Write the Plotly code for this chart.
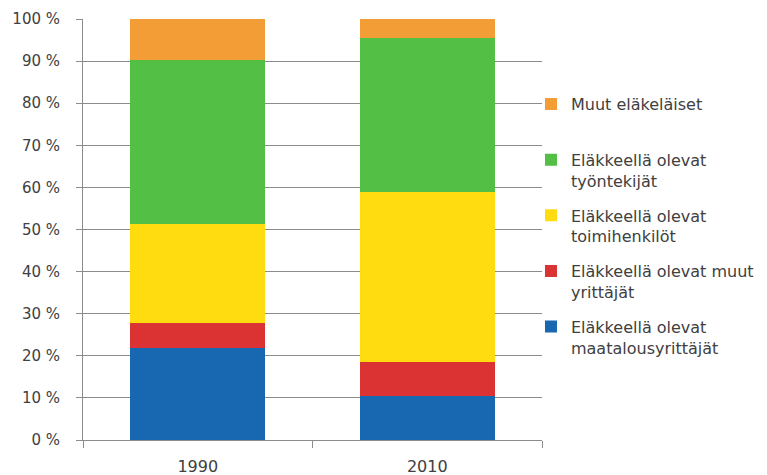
import plotly.graph_objects as go

years = ["1990", "2010"]
series = [
    "Eläkkeellä olevat<br>maatalousyrittäjät",
    "Eläkkeellä olevat muut<br>yrittäjät",
    "Eläkkeellä olevat<br>toimihenkilöt",
    "Eläkkeellä olevat<br>työntekijät",
    "Muut eläkeläiset<br> ",
]
values = [
    [21.9, 10.5],
    [5.8, 8.0],
    [23.5, 40.3],
    [39.0, 36.7],
    [9.8, 4.5],
]
colors = ["#1768B1", "#DB3333", "#FFDC0F", "#53BF45", "#F29D35"]

font = dict(family="DejaVu Sans", size=15, color="#404040")
grid = "#8C8C8C"

fig = go.Figure()
for i, name in enumerate(series):
    fig.add_trace(go.Bar(x=years, y=values[i], name=name, legendgroup=str(i),
                         legendrank=len(series) - i,
                         marker=dict(color=colors[i], line=dict(width=0))))

# page body has an 8px margin, so the figure is sized to fill the rest of the window
fig.update_layout(
    width=759, height=467,
    margin=dict(l=75, r=225, t=11, b=35, autoexpand=False),
    barmode="stack", bargap=0.41,
    plot_bgcolor="white", paper_bgcolor="white",
    font=font,
    legend=dict(x=0.976, y=0.838, xanchor="left", yanchor="top",
                traceorder="grouped", tracegroupgap=11, valign="top",
                itemwidth=30, bgcolor="rgba(0,0,0,0)",
                font=dict(size=16, color="#404040")),
)
fig.update_yaxes(range=[0, 100], dtick=10, ticksuffix=" %", showgrid=True,
                 gridcolor=grid, gridwidth=1, showline=True, linecolor=grid,
                 ticks="outside", ticklen=6, tickcolor=grid, ticklabelstandoff=13,
                 zeroline=False, automargin=False)
fig.update_xaxes(showline=True, linecolor=grid, ticks="outside", ticklen=7,
                 tickcolor=grid, tickson="boundaries", ticklabelstandoff=12,
                 showgrid=False, automargin=False, tickfont=dict(size=16))

fig.write_html("out.html")
